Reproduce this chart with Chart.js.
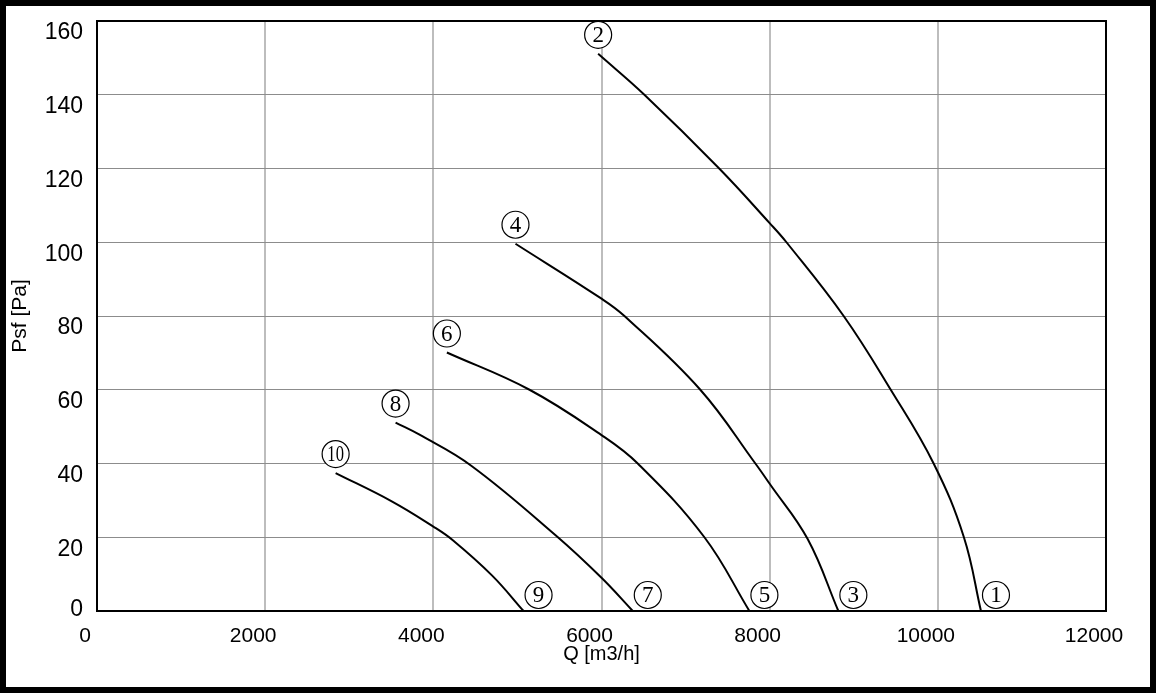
<!DOCTYPE html>
<html>
<head>
<meta charset="utf-8">
<script src="https://cdn.jsdelivr.net/npm/chart.js@4/dist/chart.umd.min.js"></script>
<style>
    body { margin: 0; background: #fff; }
    #frame {
        width: 1156px; height: 693px; box-sizing: border-box;
        border: 6px solid #000; background: #fff;
    }
    canvas { display: block; }
</style>
</head>
<body>
<div id="frame"><canvas id="fanChart" width="1144" height="681"></canvas></div>
<script>
// Fan curves: Q [m3/h] against Psf [Pa]
const curve1Q = [5960, 6510, 7400, 8000, 8200, 8880, 9440, 9950, 10310, 10513];
const curve1P = [151.1, 140, 120, 105.2, 100, 80, 60, 40, 20, 0];

const curve2Q = [4977, 6000, 6273, 7175, 7830, 8000, 8452, 8817];
const curve2P = [99.6, 84.7, 80, 60, 40, 34.5, 19.5, 0];

const curve3Q = [4161, 5144, 6000, 6431, 7224, 7759];
const curve3P = [70.1, 60, 47.7, 40, 20, 0];

const curve4Q = [3551, 3836, 4451, 5461, 6000, 6372];
const curve4P = [51.1, 47.8, 39.4, 20.4, 9.0, 0];

const curve5Q = [2838, 3500, 4000, 4232, 4700, 5073];
const curve5P = [37.4, 29.8, 22.9, 19.2, 9.6, 0];

// circled numbers: one at the top end, one at the bottom end of each curve
const startLabels = ['2', '4', '6', '8', '10'];
const endLabels = ['1', '3', '5', '7', '9'];

const xTicks = [0, 2000, 4000, 6000, 8000, 10000, 12000];
const yTicks = [0, 20, 40, 60, 80, 100, 120, 140, 160];

const allQ = [curve1Q, curve2Q, curve3Q, curve4Q, curve5Q];
const allP = [curve1P, curve2P, curve3P, curve4P, curve5P];

const datasets = allQ.map((qs, i) => ({
    data: qs.map((q, j) => ({ x: q, y: allP[i][j] })),
    showLine: true,
    borderColor: '#000',
    borderWidth: 2,
    pointRadius: 0,
    tension: 0.4,
    fill: false
}));

// draws the circled numbers and closes the plot box on top/right
const markers = {
    id: 'markers',
    afterDatasetsDraw(chart) {
        const ctx = chart.ctx;
        const xs = chart.scales.x, ys = chart.scales.y;
        const drawCircled = (txt, cx, cy) => {
            ctx.save();
            ctx.beginPath();
            ctx.arc(cx, cy, 13.5, 0, Math.PI * 2);
            ctx.fillStyle = '#fff';
            ctx.fill();
            ctx.lineWidth = 1.2;
            ctx.strokeStyle = '#000';
            ctx.stroke();
            ctx.fillStyle = '#000';
            ctx.font = '23px "Liberation Serif", "DejaVu Serif", serif';
            ctx.textAlign = 'center';
            ctx.textBaseline = 'middle';
            ctx.translate(cx, cy + 1);
            if (txt.length > 1) ctx.scale(0.72, 1);
            ctx.fillText(txt, 0, 0);
            ctx.restore();
        };
        allQ.forEach((qs, i) => {
            const ps = allP[i];
            const sx = xs.getPixelForValue(qs[0]), sy = ys.getPixelForValue(ps[0]);
            const ex = xs.getPixelForValue(qs[qs.length - 1]), ey = ys.getPixelForValue(ps[ps.length - 1]);
            drawCircled(startLabels[i], sx, sy - 19);
            drawCircled(endLabels[i], ex + 15, ey - 16);
        });
        const a = chart.chartArea;
        ctx.save();
        ctx.strokeStyle = '#000';
        ctx.lineWidth = 2;
        ctx.strokeRect(a.left, a.top, a.right - a.left, a.bottom - a.top);
        ctx.restore();
    }
};

const ctx = document.getElementById('fanChart').getContext('2d');
const fanChart = new Chart(ctx, {
    type: 'scatter',
    data: { datasets },
    plugins: [markers],
    options: {
        responsive: false,
        animation: false,
        layout: { padding: { left: 0, right: 44, top: 15, bottom: 0 } },
        plugins: {
            legend: { display: false },
            tooltip: { enabled: false }
        },
        scales: {
            x: {
                type: 'linear',
                min: xTicks[0],
                max: xTicks[xTicks.length - 1],
                afterBuildTicks: s => { s.ticks = xTicks.map(v => ({ value: v })); },
                afterFit: s => { s.height = 76; s.paddingLeft = 0; s.paddingRight = 0; },
                ticks: {
                    color: '#000',
                    font: { family: '"Liberation Sans", Arial, sans-serif', size: 21 },
                    padding: 13,
                    labelOffset: -12,
                    maxRotation: 0,
                    callback: v => String(v)
                },
                grid: { color: '#bdbdbd', lineWidth: 2, drawTicks: false },
                border: { display: true, color: '#000', width: 2 },
                title: {
                    display: true,
                    text: 'Q [m3/h]',
                    color: '#000',
                    font: { family: '"Liberation Sans", Arial, sans-serif', size: 20 },
                    padding: { top: 0, bottom: 21 }
                }
            },
            y: {
                type: 'linear',
                min: yTicks[0],
                max: yTicks[yTicks.length - 1],
                afterBuildTicks: s => { s.ticks = yTicks.map(v => ({ value: v })); },
                afterFit: s => { s.width = 91; s.paddingTop = 0; s.paddingBottom = 0; },
                ticks: {
                    color: '#000',
                    font: { family: '"Liberation Sans", Arial, sans-serif', size: 23 },
                    padding: 14,
                    labelOffset: 12,
                    callback: v => (v === 0 ? ['0', ''] : String(v))
                },
                grid: { color: '#8c8c8c', lineWidth: 1, drawTicks: false },
                border: { display: true, color: '#000', width: 2 },
                title: {
                    display: true,
                    text: 'Psf [Pa]',
                    color: '#000',
                    font: { family: '"Liberation Sans", Arial, sans-serif', size: 21 },
                    padding: { top: 2, bottom: 0 }
                }
            }
        }
    }
});
</script>
</body>
</html>
